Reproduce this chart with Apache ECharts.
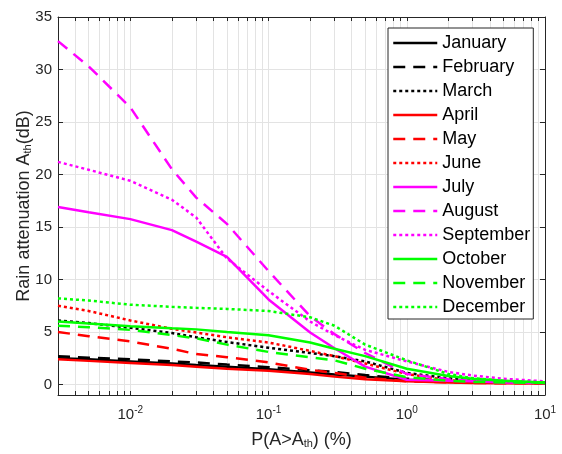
<!DOCTYPE html>
<html>
<head>
<meta charset="utf-8">
<script src="https://cdn.jsdelivr.net/npm/echarts@6/dist/echarts.min.js"></script>
<style>
  html, body { margin: 0; padding: 0; background: #fff; }
  #chart { width: 562px; height: 454px; }
</style>
</head>
<body>
<div id="chart"></div>
<script>
// exceedance probabilities (%)
const pValues = [0.003, 0.005, 0.01, 0.02, 0.03, 0.05, 0.1, 0.2, 0.3, 0.5, 1, 2, 3, 5, 10];

// rain attenuation (dB) per month
const january   = [2.5, 2.4, 2.2, 2.0, 1.85, 1.7, 1.45, 1.15, 0.95, 0.75, 0.45, 0.3, 0.25, 0.2, 0.15];
const february  = [2.7, 2.55, 2.4, 2.2, 2.1, 1.9, 1.65, 1.35, 1.2, 0.9, 0.55, 0.35, 0.3, 0.2, 0.15];
const march     = [6.1, 5.85, 5.4, 4.9, 4.5, 4.05, 3.5, 3.0, 2.7, 2.2, 1.1, 0.6, 0.45, 0.3, 0.2];
const april     = [2.4, 2.25, 2.05, 1.85, 1.7, 1.5, 1.3, 1.0, 0.75, 0.5, 0.3, 0.2, 0.15, 0.12, 0.1];
const may       = [5.0, 4.6, 4.1, 3.4, 2.9, 2.6, 2.1, 1.4, 1.1, 0.65, 0.3, 0.2, 0.15, 0.12, 0.1];
const june      = [7.5, 7.0, 6.1, 5.3, 4.95, 4.5, 4.0, 3.2, 2.7, 2.0, 1.0, 0.4, 0.3, 0.2, 0.12];
const july      = [16.9, 16.4, 15.75, 14.7, 13.6, 12.15, 8.1, 4.95, 3.45, 1.7, 0.45, 0.35, 0.3, 0.2, 0.15];
const august    = [32.7, 30.3, 26.4, 20.5, 17.8, 15.3, 10.8, 6.5, 4.8, 3.0, 1.0, 0.5, 0.35, 0.25, 0.15];
const september = [21.2, 20.45, 19.4, 17.6, 15.9, 12.0, 8.9, 6.0, 4.7, 3.3, 2.2, 1.2, 0.85, 0.55, 0.3];
const october   = [6.0, 5.8, 5.55, 5.35, 5.25, 5.0, 4.7, 4.0, 3.4, 2.7, 1.5, 0.8, 0.55, 0.35, 0.2];
const november  = [5.6, 5.45, 5.2, 4.7, 4.4, 3.8, 3.1, 2.6, 2.3, 1.5, 0.7, 0.35, 0.25, 0.2, 0.15];
const december  = [8.2, 8.0, 7.6, 7.4, 7.3, 7.2, 7.0, 6.4, 5.6, 3.8, 2.3, 1.0, 0.6, 0.35, 0.15];

const monthNames = ['January', 'February', 'March', 'April', 'May', 'June',
  'July', 'August', 'September', 'October', 'November', 'December'];
const monthData = [january, february, march, april, may, june,
  july, august, september, october, november, december];

// axis ticks
const xLabelTicks = [0.01, 0.1, 1, 10];
const xGridTicks = [0.004, 0.005, 0.006, 0.007, 0.008, 0.009,
  0.01, 0.02, 0.03, 0.04, 0.05, 0.06, 0.07, 0.08, 0.09,
  0.1, 0.2, 0.3, 0.4, 0.5, 0.6, 0.7, 0.8, 0.9,
  1, 2, 3, 4, 5, 6, 7, 8, 9, 10];
const yTicks = [0, 5, 10, 15, 20, 25, 30, 35];

// line styles: colour per quarter, solid / dashed / dotted inside it
const colors = ['#000000', '#ff0000', '#ff00ff', '#00ff00'];
const dashes = ['solid', [12, 8], [3, 3]];

const FONT = 'Liberation Sans, Arial, sans-serif';
const AXIS_COLOR = '#262626';
const GRID_COLOR = '#e3e3e3';

const series = monthNames.map((name, i) => ({
  name: name,
  type: 'line',
  symbol: 'none',
  showSymbol: false,
  data: pValues.map((p, j) => [p, monthData[i][j]]),
  lineStyle: {
    color: colors[Math.floor(i / 3)],
    width: 2.5,
    type: dashes[i % 3]
  },
  itemStyle: { color: colors[Math.floor(i / 3)] },
  emphasis: { disabled: true },
  animation: false
}));

const xCommon = {
  type: 'log',
  min: 0.003,
  max: 10,
  logBase: 10,
  axisLine: { show: true, onZero: false, lineStyle: { color: AXIS_COLOR, width: 1 } }
};

const yCommon = {
  type: 'value',
  min: -1,
  max: 35,
  axisLine: { show: true, onZero: false, lineStyle: { color: AXIS_COLOR, width: 1 } }
};

const chart = echarts.init(document.getElementById('chart'));
chart.setOption({
  backgroundColor: '#fff',
  animation: false,
  grid: { left: 58, right: 17, top: 17, bottom: 55 },
  legend: {
    orient: 'vertical',
    left: 388,
    top: 28,
    padding: [6, 3, 3, 4],
    itemWidth: 44,
    itemHeight: 16,
    itemGap: 6,
    align: 'left',
    backgroundColor: '#fff',
    borderColor: AXIS_COLOR,
    borderWidth: 1,
    borderRadius: 0,
    itemStyle: { opacity: 0 },
    lineStyle: { width: 2.5 },
    textStyle: { fontFamily: FONT, fontSize: 18, color: '#000' },
    data: monthNames
  },
  xAxis: [
    Object.assign({}, xCommon, {
      position: 'bottom',
      name: 'P(A>A{sub|th}) (%)',
      nameLocation: 'middle',
      nameGap: 36,
      nameMoveOverlap: false,
      nameTextStyle: {
        fontFamily: FONT, fontSize: 18, color: AXIS_COLOR,
        rich: {
          sub: { fontFamily: FONT, fontSize: 11, color: AXIS_COLOR, verticalAlign: 'bottom', lineHeight: 14 }
        }
      },
      axisTick: { show: true, inside: true, length: 4, customValues: xGridTicks, lineStyle: { color: AXIS_COLOR } },
      axisLabel: {
        show: true,
        customValues: xLabelTicks,
        margin: 10,
        color: AXIS_COLOR,
        formatter: v => '10{sup|' + Math.round(Math.log10(v)) + '}',
        fontFamily: FONT,
        fontSize: 15,
        lineHeight: 20,
        rich: {
          sup: { fontFamily: FONT, fontSize: 10, color: AXIS_COLOR, verticalAlign: 'top', lineHeight: 12 }
        }
      },
      splitLine: { show: true, lineStyle: { color: GRID_COLOR, width: 1 } }
    }),
    Object.assign({}, xCommon, {
      position: 'top',
      axisTick: { show: true, inside: true, length: 4, customValues: xGridTicks, lineStyle: { color: AXIS_COLOR } },
      axisLabel: { show: false },
      splitLine: { show: false }
    })
  ],
  yAxis: [
    Object.assign({}, yCommon, {
      position: 'left',
      name: 'Rain attenuation A{sub|th}(dB)',
      nameLocation: 'middle',
      nameGap: 25,
      nameMoveOverlap: false,
      nameTextStyle: {
        fontFamily: FONT, fontSize: 18, color: AXIS_COLOR,
        rich: {
          sub: { fontFamily: FONT, fontSize: 11, color: AXIS_COLOR, verticalAlign: 'bottom', lineHeight: 14 }
        }
      },
      axisTick: { show: true, inside: true, length: 5, customValues: yTicks, lineStyle: { color: AXIS_COLOR } },
      axisLabel: { show: true, customValues: yTicks, margin: 6, color: AXIS_COLOR, fontFamily: FONT, fontSize: 15 },
      splitLine: { show: true, lineStyle: { color: GRID_COLOR, width: 1 } }
    }),
    Object.assign({}, yCommon, {
      position: 'right',
      axisTick: { show: true, inside: true, length: 5, customValues: yTicks, lineStyle: { color: AXIS_COLOR } },
      axisLabel: { show: false },
      splitLine: { show: false }
    })
  ],
  series: series
});
</script>
</body>
</html>
